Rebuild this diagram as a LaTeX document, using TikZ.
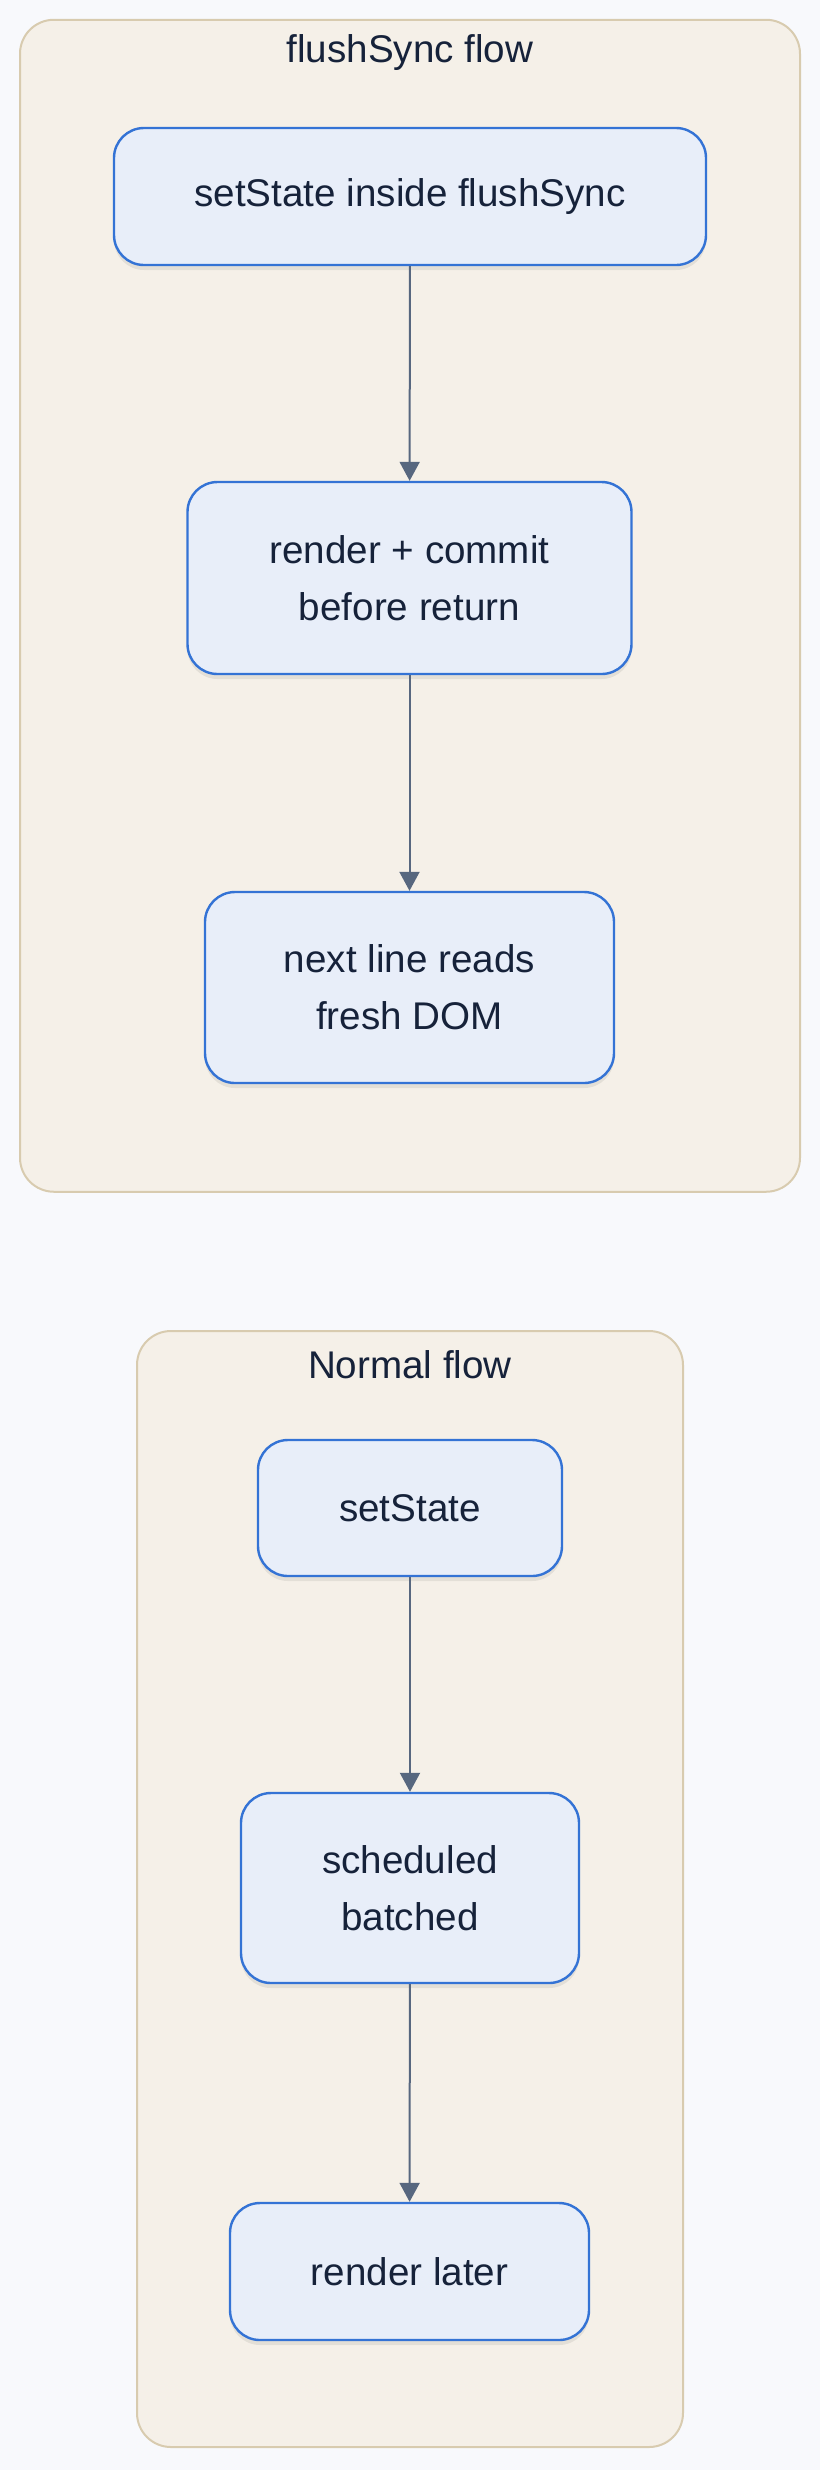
\documentclass[tikz,border=0pt]{standalone}
\usepackage{fontspec}
\setmainfont{Liberation Sans}
\usetikzlibrary{arrows.meta,shadows}
\definecolor{pagebg}{HTML}{F8F9FC}
\definecolor{clusterfill}{HTML}{F5F0E8}
\definecolor{clusterline}{HTML}{D8CBAF}
\definecolor{boxfill}{HTML}{E8EEF9}
\definecolor{boxline}{HTML}{3473D5}
\definecolor{inktext}{HTML}{16223A}
\definecolor{arrowline}{HTML}{57677F}
\tikzset{
  cluster/.style={draw=clusterline, fill=clusterfill, line width=1pt,
    rounded corners=17pt, inner sep=0pt},
  flowbox/.style={draw=boxline, fill=boxfill, line width=1.2pt,
    rounded corners=15pt, inner sep=0pt, align=center, text=inktext,
    drop shadow={shadow xshift=0pt, shadow yshift=-2.5pt, opacity=0.07, fill=black}},
  clustertitle/.style={text=inktext, inner sep=0pt},
  flowarrow/.style={draw=arrowline, line width=1pt, -{Triangle[length=9.5pt,width=10pt]}}
}
\begin{document}
\begin{tikzpicture}[x=0.5pt, y=-0.5pt,
    every node/.style={font=\fontsize{19.3pt}{28.5pt}\selectfont}]
  \useasboundingbox[fill=pagebg] (0,0) rectangle (820,2470);
  % flushSync flow
  \node[cluster, minimum width=390pt, minimum height=586pt] (syncbox) at (410,605.75) {};
  \node[clustertitle] (synctitle) at (410,53) {flushSync flow};
  \node[flowbox, minimum width=296pt, minimum height=68.5pt] (syncset) at (410,196.5) {setState inside flushSync};
  \node[flowbox, minimum width=222pt, minimum height=96pt] (synccommit) at (409.5,578) {render + commit\\before return};
  \node[flowbox, minimum width=204.5pt, minimum height=95.5pt] (syncread) at (409.5,987.5) {next line reads\\fresh DOM};
  \draw[flowarrow] (syncset) -- (synccommit);
  \draw[flowarrow] (synccommit) -- (syncread);
  % Normal flow
  \node[cluster, minimum width=273pt, minimum height=558pt] (normbox) at (410,1889) {};
  \node[clustertitle] (normtitle) at (410,1365) {Normal flow};
  \node[flowbox, minimum width=152pt, minimum height=68pt] (normset) at (410,1508) {setState};
  \node[flowbox, minimum width=169pt, minimum height=95pt] (normsched) at (410,1888) {scheduled\\batched};
  \node[flowbox, minimum width=179.5pt, minimum height=68.5pt] (normrender) at (409.5,2271.5) {render later};
  \draw[flowarrow] (normset) -- (normsched);
  \draw[flowarrow] (normsched) -- (normrender);
\end{tikzpicture}
\end{document}
